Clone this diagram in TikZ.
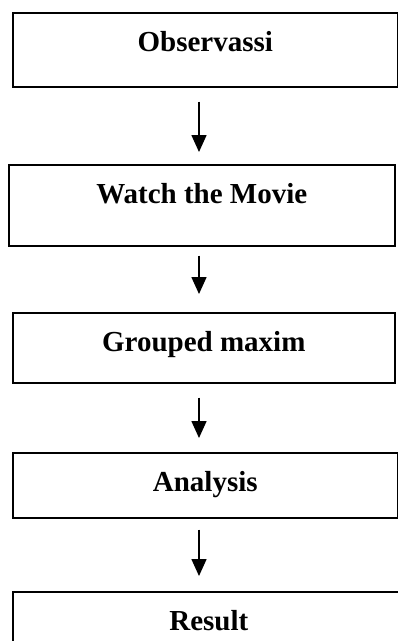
\documentclass[tikz,border=0pt]{standalone}
\usepackage{fontspec}
\setmainfont{Liberation Serif}
\usetikzlibrary{arrows.meta}
\begin{document}
\begin{tikzpicture}[x=1pt,y=-1pt,
  stepbox/.style={draw=black, line width=1.6pt, inner sep=0pt, anchor=north west,
    font=\fontsize{29}{34}\selectfont\bfseries, text height=39pt},
  flow/.style={line width=1.6pt, -{Triangle[width=15pt,length=17pt]}}]
\useasboundingbox (0,0) rectangle (398,641);
\clip (0,0) rectangle (398,641);
\coordinate (ax) at (199,0);
\node[stepbox, minimum width=385pt, text depth=35pt] (b1) at (12,12) {Observassi};
\node[stepbox, minimum width=386pt, text depth=42pt] (b2) at (8,164) {Watch the Movie};
\node[stepbox, minimum width=382pt, text depth=31pt] (b3) at (12,312) {Grouped maxim};
\node[stepbox, minimum width=385pt, text depth=26pt] (b4) at (12,452) {Analysis};
\node[stepbox, minimum width=392pt, text depth=40pt] (b5) at (12,591) {Result};
\draw[flow, shorten <=14pt, shorten >=12pt] (b1.south -| ax) -- (b2.north -| ax);
\draw[flow, shorten <=9pt, shorten >=18pt] (b2.south -| ax) -- (b3.north -| ax);
\draw[flow, shorten <=14pt, shorten >=14pt] (b3.south -| ax) -- (b4.north -| ax);
\draw[flow, shorten <=11pt, shorten >=15pt] (b4.south -| ax) -- (b5.north -| ax);
\end{tikzpicture}
\end{document}
